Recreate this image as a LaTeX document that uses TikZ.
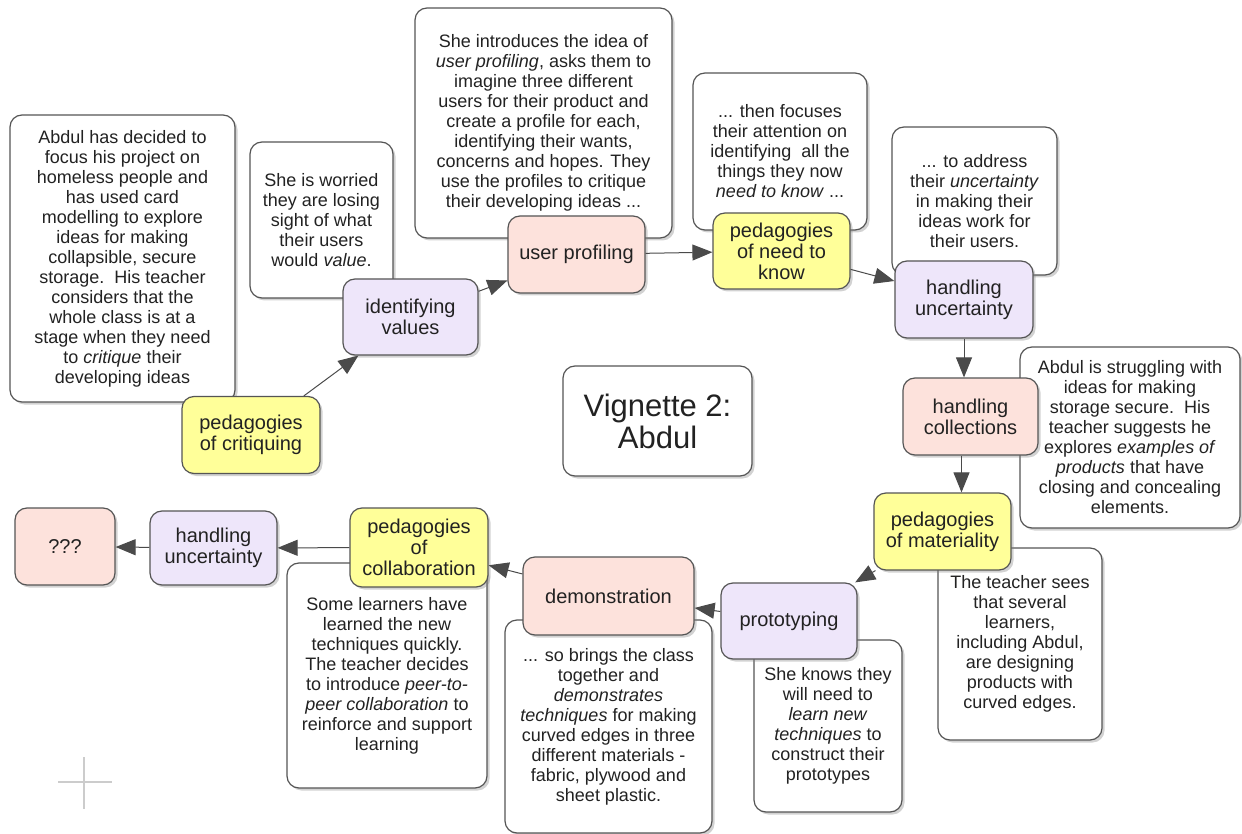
\documentclass[tikz,border=0pt]{standalone}
\usepackage{fontspec}
\setmainfont{Liberation Sans}
\usetikzlibrary{arrows.meta,shadows}
\definecolor{cyel}{HTML}{FFFF99}
\definecolor{clav}{HTML}{EEE6FA}
\definecolor{cpink}{HTML}{FDE2DC}
\definecolor{cline}{HTML}{555555}
\definecolor{carrow}{HTML}{4A4A4A}
\definecolor{ctext}{HTML}{222222}
\definecolor{ccross}{HTML}{CCCCCC}
\begin{document}
\begin{tikzpicture}[x=1pt,y=-1pt,
  base/.style={draw=cline, line width=1.2pt, rounded corners=12pt, inner sep=0pt,
    align=center, text=ctext,
    drop shadow={shadow xshift=2.5pt, shadow yshift=-2.5pt, opacity=0.35}},
  textbox/.style={base, fill=white, font=\fontsize{18}{20}\selectfont},
  concept/.style={base, font=\fontsize{20}{21}\selectfont, minimum width=137pt, minimum height=77pt},
  yel/.style={concept, fill=cyel},
  lav/.style={concept, fill=clav},
  pnk/.style={concept, fill=cpink},
  arr/.style={draw=carrow, line width=1pt, -{Triangle[length=20pt,width=16pt]}},
]
\fill[white] (0,0) rectangle (1242,834);
\useasboundingbox (0,0) rectangle (1242,834);

% crosshair mark
\draw[ccross, line width=1.5pt] (58,782) -- (112,782) (84,757) -- (84,809);

% text boxes
\node[textbox, minimum width=225pt, minimum height=287pt] (tAbdul) at (122.5,258.5)
 {Abdul has decided to\\focus his project on\\homeless people and\\has used card\\modelling to explore\\ideas for making\\collapsible, secure\\storage.\ \ His teacher\\considers that the\\whole class is at a\\stage when they need\\to \textit{critique} their\\developing ideas};
\node[textbox, minimum width=143pt, minimum height=156pt] (tWorried) at (321.5,220)
 {She is worried\\they are losing\\sight of what\\their users\\would \textit{value}.};
\node[textbox, minimum width=257pt, minimum height=230pt] (tIntro) at (543.5,123)
 {She introduces the idea of\\\textit{user profiling}, asks them to\\imagine three different\\users for their product and\\create a profile for each,\\identifying their wants,\\concerns and hopes. They\\use the profiles to critique\\their developing ideas ...};
\node[textbox, minimum width=174pt, minimum height=157pt] (tFocus) at (780,151.5)
 {... then focuses\\their attention on\\identifying\ \ all the\\things they now\\\textit{need to know} ...};
\node[textbox, minimum width=165pt, minimum height=148pt] (tAddress) at (974.5,201)
 {... to address\\their \textit{uncertainty}\\in making their\\ideas work for\\their users.};
\node[textbox, minimum width=220pt, minimum height=181pt] (tStruggle) at (1130,437.5)
 {Abdul is struggling with\\ideas for making\\storage secure.\ \ His\\teacher suggests he\\explores \textit{examples of}\\\textit{products} that have\\closing and concealing\\elements.};
\node[textbox, minimum width=164pt, minimum height=192pt] (tSees) at (1020,644)
 {The teacher sees\\that several\\learners,\\including Abdul,\\are designing\\products with\\curved edges.};
\node[textbox, minimum width=148pt, minimum height=172pt] (tKnows) at (828,726)
 {She knows they\\will need to\\\textit{learn new}\\\textit{techniques} to\\construct their\\prototypes};
\node[textbox, minimum width=207pt, minimum height=213pt] (tBrings) at (608.5,726.5)
 {... so brings the class\\together and\\\textit{demonstrates}\\\textit{techniques} for making\\curved edges in three\\different materials -\\fabric, plywood and\\sheet plastic.};
\node[textbox, minimum width=200pt, minimum height=225pt] (tLearners) at (387,675.5)
 {Some learners have\\learned the new\\techniques quickly.\\The teacher decides\\to introduce \textit{peer-to-}\\\textit{peer collaboration} to\\reinforce and support\\learning};

% title box
\node[base, fill=white, font=\fontsize{31}{32}\selectfont, minimum width=189pt, minimum height=110pt] (title) at (657.5,421)
 {Vignette 2:\\Abdul};

% concept nodes
\node[yel, minimum width=138pt] (crit) at (251,435) {pedagogies\\of critiquing};
\node[lav, minimum width=135pt, minimum height=76pt] (values) at (410.5,317) {identifying\\values};
\node[pnk] (profiling) at (576.5,254.5) {user profiling};
\node[yel, minimum height=76pt] (need) at (781.5,251) {pedagogies\\of need to\\know};
\node[lav, minimum width=138pt] (unc1) at (964,299.5) {handling\\uncertainty};
\node[pnk, minimum width=135pt] (coll) at (970.5,416.5) {handling\\collections};
\node[yel] (mat) at (942.5,531.5) {pedagogies\\of materiality};
\node[lav, minimum width=136pt, minimum height=76pt] (proto) at (789,621) {prototyping};
\node[pnk, minimum width=171pt, minimum height=78pt] (demo) at (608.5,596) {demonstration};
\node[yel, minimum width=138pt, minimum height=79pt] (collab) at (419,547.5) {pedagogies\\of\\collaboration};
\node[lav, minimum width=127pt, minimum height=74pt] (unc2) at (213.5,548) {handling\\uncertainty};
\node[pnk, minimum width=100pt] (q) at (65,546.5) {???};

% connectors
\draw[arr] (crit) -- (values);
\draw[arr] (values) -- (profiling);
\draw[arr] (profiling) -- (need);
\draw[arr] (need) -- (unc1);
\draw[arr] (unc1.south) -- (unc1.south |- coll.north);
\draw[arr] ([xshift=-9pt]coll.south) -- ([xshift=-9pt]coll.south |- mat.north);
\draw[arr] (mat) -- (proto);
\draw[arr] (proto) -- (demo);
\draw[arr] (demo) -- (collab);
\draw[arr] (collab) -- (unc2);
\draw[arr] (unc2) -- (q);
\end{tikzpicture}
\end{document}
